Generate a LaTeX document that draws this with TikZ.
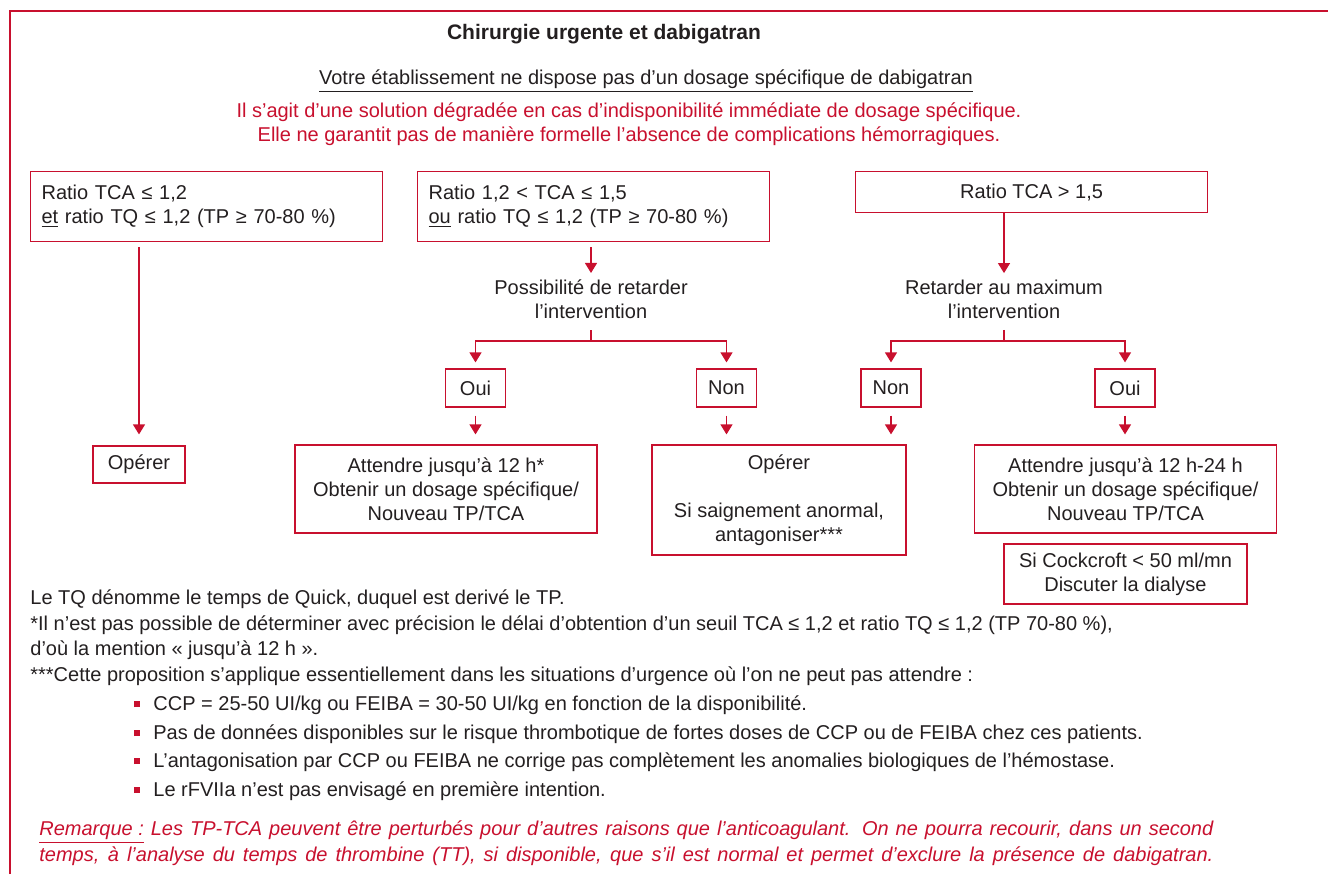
\documentclass[tikz,border=0pt]{standalone}
\usepackage{fontspec}
\setmainfont{Liberation Sans}
\usetikzlibrary{arrows.meta, positioning}

\definecolor{cred}{RGB}{200,16,46}
\definecolor{ctext}{RGB}{35,31,32}
\newcommand{\redsq}{{\color{cred}\rule[1.5pt]{3pt}{3pt}}\hspace{6.5pt}}

\begin{document}
\begin{tikzpicture}[
        x=0.5pt, y=-0.5pt,
        font=\fontsize{10}{12}\selectfont,
        text=ctext,
        box/.style={draw=cred, line width=0.6pt, inner sep=0pt, align=center},
        cond/.style={box, minimum width=176pt, minimum height=35pt, text width=165pt, inner xsep=5.5pt, align=left, anchor=north west},
        yesno/.style={box, minimum width=30pt, minimum height=19pt},
        todo/.style={box, minimum width=151pt, minimum height=44pt},
        line/.style={-{Triangle[width=6pt,length=5pt]}, draw=cred, line width=0.6pt},
        note/.style={anchor=base west, inner sep=0pt},
        remark/.style={note, text=cred, font=\fontsize{10}{13}\selectfont\itshape}
    ]
    \useasboundingbox (0,0) rectangle (1328,874);

    % Frame
    \draw[cred, line width=0.6pt] (10,874) |- (1328,11);

    % Header
    \node[font=\fontsize{10.5}{12}\selectfont\bfseries, anchor=base] (title) at (604,39) {Chirurgie urgente et dabigatran};
    \node[anchor=base] (sub) at (646,84) {\underline{Votre établissement ne dispose pas d’un dosage spécifique de dabigatran}};
    \node[text=cred, anchor=base] (warn1) at (629,117) {Il s’agit d’une solution dégradée en cas d’indisponibilité immédiate de dosage spécifique.};
    \node[text=cred, anchor=base] (warn2) at (629,141) {Elle ne garantit pas de manière formelle l’absence de complications hémorragiques.};

    % Top row: conditions
    \node[cond] (tca1) at (30,171) {Ratio TCA ≤ 1,2\\\underline{et} ratio TQ ≤ 1,2 (TP ≥ 70-80 \%)};
    \node[cond] (tca2) at (417,171) {Ratio 1,2 < TCA ≤ 1,5\\\underline{ou} ratio TQ ≤ 1,2 (TP ≥ 70-80 \%)};
    \node[box, minimum width=176pt, minimum height=20.5pt, anchor=north west] (tca3) at (855,171) {Ratio TCA > 1,5};

    % Middle: questions and answers
    \node[align=center] (poss) at (591,299.5) {Possibilité de retarder\\l’intervention};
    \node[align=center] (delay) at (1004,299.5) {Retarder au maximum\\l’intervention};

    \node[yesno] (oui1) at (475.5,388) {Oui};
    \node[yesno] (non1) at (726.5,388) {Non};
    \node[yesno] (non2) at (891,388) {Non};
    \node[yesno] (oui2) at (1125,388) {Oui};

    % Bottom row: actions
    \node[box, minimum width=46pt, minimum height=18.5pt] (op1) at (139,464.5) {Opérer};
    \node[todo] (att1) at (446,489) {Attendre jusqu’à 12 h*\\Obtenir un dosage spécifique/\\Nouveau TP/TCA};
    \node[box, minimum width=127pt, minimum height=55pt] (op2) at (779,500) {Opérer\\[12pt]Si saignement anormal,\\antagoniser***};
    \node[todo] (att2) at (1125.5,489) {Attendre jusqu’à 12 h-24 h\\Obtenir un dosage spécifique/\\Nouveau TP/TCA};
    \node[box, minimum width=121.5pt, minimum height=30pt] (dial) at (1125.5,574) {Si Cockcroft < 50 ml/mn\\Discuter la dialyse};

    % Arrows
    \draw[line, shorten <=2.5pt, shorten >=5.5pt] (op1 |- tca1.south) -- (op1);
    \draw[line, shorten <=2.5pt] (poss |- tca2.south) -- (poss);
    \draw[line] (delay |- tca3.south) -- (delay);

    \coordinate[below=7.5pt of poss.south] (j1);
    \coordinate[below=7.5pt of delay.south] (j2);
    \draw[line, shorten >=3pt] ([yshift=-2pt]poss.south) -- (j1) -| (oui1);
    \draw[line, shorten >=3pt] (j1) -| (non1);
    \draw[line, shorten >=3pt] ([yshift=-2pt]delay.south) -- (j2) -| (non2);
    \draw[line, shorten >=3pt] (j2) -| (oui2);

    \draw[line, shorten <=4pt, shorten >=5pt] (oui1) -- (oui1 |- att1.north);
    \draw[line, shorten <=4pt, shorten >=5pt] (non1) -- (non1 |- op2.north);
    \draw[line, shorten <=4pt, shorten >=5pt] (non2) -- (non2 |- op2.north);
    \draw[line, shorten <=4pt, shorten >=5pt] (oui2) -- (oui2 |- att2.north);

    % Footnotes
    \node[note] (n1) at (30,604) {Le TQ dénomme le temps de Quick, duquel est derivé le TP.};
    \node[note] (n2) at (30,630) {*Il n’est pas possible de déterminer avec précision le délai d’obtention d’un seuil TCA ≤ 1,2 et ratio TQ ≤ 1,2 (TP 70-80 \%),};
    \node[note] (n3) at (30,655) {d’où la mention « jusqu’à 12 h ».};
    \node[note] (n4) at (30,681) {***Cette proposition s’applique essentiellement dans les situations d’urgence où l’on ne peut pas attendre :};
    \node[note] (b1) at (134,710) {\redsq CCP = 25-50 UI/kg ou FEIBA = 30-50 UI/kg en fonction de la disponibilité.};
    \node[note] (b2) at (134,739) {\redsq Pas de données disponibles sur le risque thrombotique de fortes doses de CCP ou de FEIBA chez ces patients.};
    \node[note] (b3) at (134,767) {\redsq L’antagonisation par CCP ou FEIBA ne corrige pas complètement les anomalies biologiques de l’hémostase.};
    \node[note] (b4) at (134,796) {\redsq Le rFVIIa n’est pas envisagé en première intention.};

    % Remark
    \node[remark] (rem1) at (39,835) {\makebox[587pt][s]{\underline{Remarque :} Les TP-TCA peuvent être perturbés pour d’autres raisons que l’anticoagulant. On ne pourra recourir, dans un second}};
    \node[remark] (rem2) at (39,861) {\makebox[587pt][s]{temps, à l’analyse du temps de thrombine (TT), si disponible, que s’il est normal et permet d’exclure la présence de dabigatran.}};

\end{tikzpicture}
\end{document}
